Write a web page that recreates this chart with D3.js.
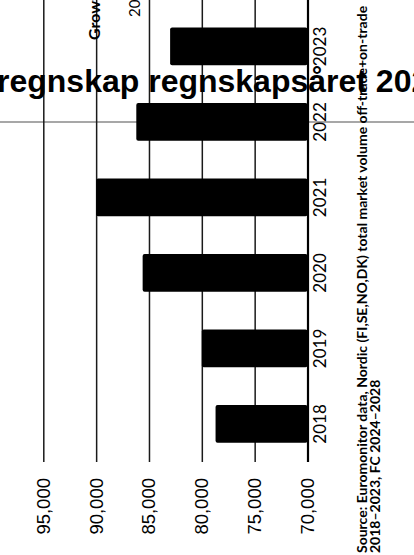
<!DOCTYPE html>
<html>
<head>
<meta charset="utf-8">
<script src="https://cdn.jsdelivr.net/npm/d3@7"></script>
<style>
  body { margin: 0; background: #fff; }
  svg { display: block; }
  .year-axis text { font-family: Lato, "Noto Sans", sans-serif; font-size: 17px; fill: #000; }
  .value-axis text { font-family: "Liberation Sans", Arial, sans-serif; font-size: 18.5px; fill: #000; }
  .value-axis line { stroke: #1a1a1a; stroke-width: 1.5; }
  .source { font-family: Lato, "Noto Sans", sans-serif; font-size: 14px; font-weight: 700; fill: #000; }
</style>
</head>
<body>
<svg width="414" height="555"></svg>
<script>
const years = ['2018', '2019', '2020', '2021', '2022', '2023', '2024', '2025', '2026', '2027', '2028'];
const barYears = ['2018', '2019', '2020', '2021', '2022', '2023'];
const volumes = [78700, 80000, 85600, 90000, 86200, 83000];
const valueTicks = [70000, 75000, 80000, 85000, 90000, 95000];
const sourceLines = [
    'Source: Euromonitor data, Nordic (FI,SE,NO,DK) total market volume off-trade+on-trade',
    '2018\u20132023, FC 2024\u20132028'
];
const overlayTitle = 'regnskap regnskapsåret 2023';

const svg = d3.select('svg');
const W = 555, H = 414;   // chart drawn upright, then turned a quarter to the left

const g = svg.append('g').attr('transform', `translate(0,${W}) rotate(-90)`);

const x = d3.scaleBand().domain(years).range([74.4, 74.4 + 75.5 * 11.5]).padding(0.5);
const y = d3.scaleLinear().domain([70000, 95000]).range([307.5, 43.3]);
const barData = barYears.map((yr, i) => ({ year: yr, value: volumes[i] }));

// grey reference line behind everything
const refX = x('2022') + x.bandwidth() / 2;
g.append('line')
    .attr('x1', refX).attr('x2', refX)
    .attr('y1', 0).attr('y2', H)
    .attr('stroke', '#8a8a8a').attr('stroke-width', 1.3);

// value axis with gridlines
const axisStart = 93;
const valueAxis = g.append('g')
    .attr('class', 'value-axis')
    .attr('transform', `translate(${axisStart},0)`)
    .call(d3.axisLeft(y).tickValues(valueTicks).tickFormat(d3.format(','))
        .tickSizeInner(-(1000 - axisStart)).tickSizeOuter(0).tickPadding(16));
valueAxis.select('.domain').remove();
valueAxis.selectAll('.tick').filter(d => d === 70000).select('line')
    .style('stroke', '#000').style('stroke-width', 2.2);

// bars
g.selectAll('.bar')
    .data(barData)
    .join('rect')
    .attr('class', 'bar')
    .attr('x', d => x(d.year))
    .attr('y', d => y(d.value))
    .attr('width', x.bandwidth())
    .attr('height', d => y(70000) - y(d.value))
    .attr('rx', 2)
    .attr('fill', '#000');

// year axis
const yearAxis = g.append('g')
    .attr('class', 'year-axis')
    .attr('transform', `translate(0,${y(70000)})`)
    .call(d3.axisBottom(x).tickSize(0).tickPadding(6));
yearAxis.select('.domain').remove();

// cut-off labels at the top of the picture
g.append('text')
    .attr('x', W - 40).attr('y', 94).attr('dy', '0.35em')
    .style('font-family', 'Lato, sans-serif').style('font-size', '16px').style('font-weight', 700)
    .text('Growth');
g.append('text')
    .attr('x', W - 17).attr('y', 135).attr('dy', '0.35em')
    .style('font-family', 'Lato, sans-serif').style('font-size', '15px')
    .text('2024');

// source
g.selectAll('.source')
    .data(sourceLines)
    .join('text')
    .attr('class', 'source')
    .attr('x', 2)
    .attr('y', (d, i) => 367 + i * 13)
    .text(d => d);

// title laid over the chart
svg.append('text')
    .attr('x', -3).attr('y', 92)
    .style('font-family', '"Liberation Sans", Arial, sans-serif')
    .style('font-size', '32px').style('font-weight', 700)
    .text(overlayTitle);
</script>
</body>
</html>
